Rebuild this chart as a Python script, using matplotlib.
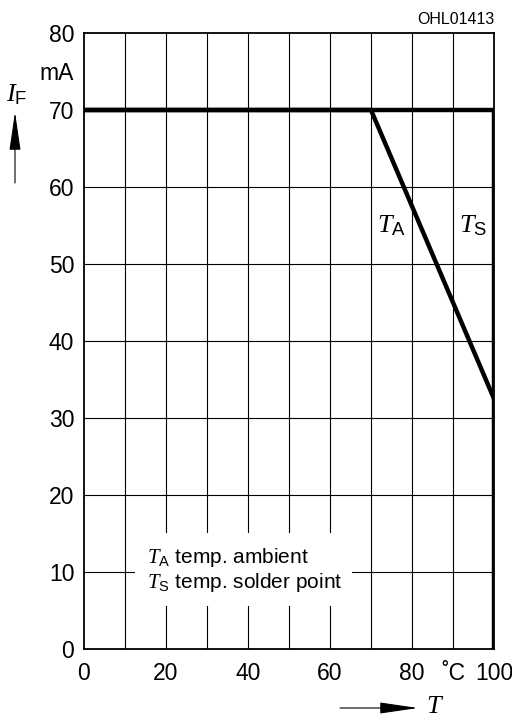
import matplotlib
matplotlib.use("Agg")
import matplotlib.pyplot as plt
from matplotlib import font_manager as fm
from matplotlib.patches import Rectangle, FancyArrowPatch

names = {f.name for f in fm.fontManager.ttflist}
SANS = 'Liberation Sans Narrow' if 'Liberation Sans Narrow' in names else 'Liberation Sans'
plt.rcParams['font.family'] = [SANS, 'DejaVu Sans']
plt.rcParams['mathtext.fontset'] = 'custom'
plt.rcParams['mathtext.it'] = 'Liberation Serif:italic'
plt.rcParams['mathtext.rm'] = SANS
plt.rcParams['mathtext.sf'] = SANS

# Data
ta_T = [0, 70, 100]
ta_I = [70, 70, 32.5]
ts_T = [0, 100, 100]
ts_I = [70, 70, 0]
x_ticks = [0, 20, 40, 60, 80, 90, 100]
x_labels = ['0', '20', '40', '60', '80', '˚C', '100']
y_ticks = [0, 10, 20, 30, 40, 50, 60, 70, 75, 80]
y_labels = ['0', '10', '20', '30', '40', '50', '60', '70', 'mA', '80']

fig = plt.figure(figsize=(5.12, 7.21), dpi=100)
ax = fig.add_axes([84/512, 1-649/721, 410/512, 616/721])
ax.set_xlim(0, 100)
ax.set_ylim(0, 80)
for v in range(10, 100, 10):
    ax.axvline(v, color='black', lw=0.8, zorder=1)
for v in range(10, 80, 10):
    ax.axhline(v, color='black', lw=0.8, zorder=1)
for s in ax.spines.values():
    s.set_linewidth(1.3)

ax.plot(ts_T, ts_I, color='black', lw=3.2, solid_joinstyle='miter', zorder=3)
ax.plot(ta_T, ta_I, color='black', lw=3.2, solid_joinstyle='miter', zorder=3)

ax.set_xticks(x_ticks)
ax.set_xticklabels(x_labels, fontsize=16.5)
ax.set_yticks(y_ticks)
ax.set_yticklabels(y_labels, fontsize=16.5)
ax.tick_params(axis='x', length=0, pad=9)
ax.tick_params(axis='y', length=0, pad=7)

ax.text(75.1, 55.0, r'$T_\mathrm{A}$', fontsize=19, ha='center', va='center', zorder=4)
ax.text(94.9, 55.0, r'$T_\mathrm{S}$', fontsize=19, ha='center', va='center', zorder=4)

ax.add_patch(Rectangle((12.4, 5.6), 53.0, 9.5, facecolor='white', edgecolor='none', zorder=2))
ax.text(15.4, 10.3, r'$T_\mathrm{A}$ temp. ambient' + '\n' + r'$T_\mathrm{S}$ temp. solder point',
        fontsize=15, ha='left', va='center', linespacing=1.1, zorder=5)

fig.text(494/512, 1-20/721, 'OHL01413', fontsize=11.5, ha='right', va='center')
fig.text(17/512, 1-95/721, r'$I_\mathrm{F}$', fontsize=19, ha='center', va='center')
fig.add_artist(FancyArrowPatch((15/512, 1-183/721), (15/512, 1-112/721),
               transform=fig.transFigure, arrowstyle='-|>,head_length=24,head_width=3.5',
               color='black', lw=0.8, mutation_scale=1, shrinkA=0, shrinkB=0))
fig.add_artist(FancyArrowPatch((340/512, 1-708/721), (418/512, 1-708/721),
               transform=fig.transFigure, arrowstyle='-|>,head_length=24,head_width=3.5',
               color='black', lw=0.8, mutation_scale=1, shrinkA=0, shrinkB=0))
fig.text(435/512, 1-706/721, r'$T$', fontsize=19, ha='center', va='center')

fig.savefig('out.png', dpi=100)
